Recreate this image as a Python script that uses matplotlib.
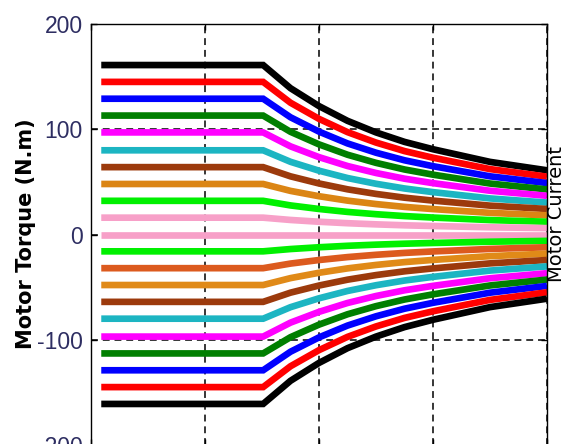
import matplotlib
matplotlib.use("Agg")
import matplotlib.pyplot as plt
import numpy as np

plt.rcParams['axes.unicode_minus'] = False

# speed points (axis units) and the outer (black) torque curve
speed = [0.09, 1.51, 1.75, 2.0, 2.25, 2.5, 2.75, 3.0, 3.25, 3.5, 3.75, 4.0]
outer_torque = [161, 161, 139, 122, 108, 97, 88, 81, 75, 69, 65, 61]

# torque limit of each curve at low speed, top to bottom
levels = [161, 145, 129, 113, 97, 80, 64, 48, 32, 16, 0,
          -16, -32, -48, -64, -80, -97, -113, -129, -145, -161]
colors = ['#000000', '#ff0000', '#0000ff', '#007f00', '#ff00ff', '#1cb5c2',
          '#9c3a0c', '#db8514', '#00f000', '#f7a0c8', '#f7a0c8',
          '#00f000', '#dc5a1e', '#e08a18', '#9c3a0c', '#1cb5c2', '#ff00ff',
          '#007f00', '#0000ff', '#ff0000', '#000000']

yticks = [-200, -100, 0, 100, 200]

fig = plt.figure(figsize=(5.67, 4.44), dpi=100)
W, H = 567.0, 444.0
ax = fig.add_axes([91 / W, 1 - 445 / H, (547 - 91) / W, (445 - 24) / H])

shape = np.array(outer_torque) / outer_torque[0]
for lev, col in zip(levels, colors):
    ax.plot(speed, lev * shape, color=col, lw=4.8,
            solid_capstyle='butt', solid_joinstyle='miter', zorder=2)

ax.set_xlim(0, 4)
ax.set_ylim(-200, 200)
ax.set_xticks([0, 1, 2, 3, 4])
ax.set_yticks(yticks)
ax.set_xticklabels([])
ax.grid(True, color='black', linestyle=(0, (4.5, 3.2)), lw=1.1, zorder=1)
ax.set_axisbelow(True)
ax.tick_params(direction='in', length=4, width=1, top=True, right=True,
               labelbottom=False)
ax.tick_params(axis='y', labelsize=16.5, labelcolor='#2e2e62', pad=6)
for lab in ax.get_yticklabels():
    lab.set_family('Liberation Sans')
for s in ax.spines.values():
    s.set_linewidth(1.0)

fig.text(26 / W, 1 - 234 / H, 'Motor Torque (N.m)', rotation=90,
         ha='center', va='center', fontsize=15, fontweight='bold',
         family='DejaVu Sans')
fig.text(557 / W, 1 - 214 / H, 'Motor Current', rotation=90,
         ha='center', va='center', fontsize=14, family='DejaVu Sans')

fig.savefig('out.png', dpi=100, facecolor='white')
